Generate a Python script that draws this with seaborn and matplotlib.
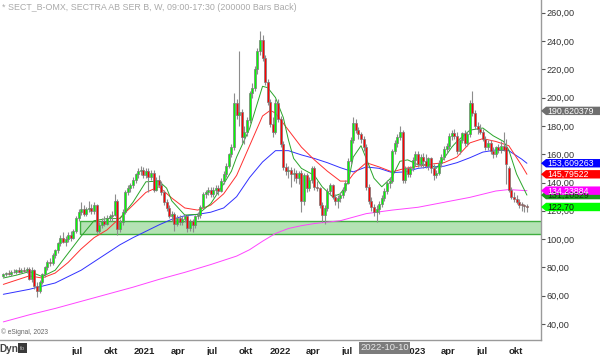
import numpy as np
import pandas as pd
import matplotlib
matplotlib.use("Agg")
import matplotlib.pyplot as plt
import matplotlib.dates as mdates
import matplotlib.transforms as mtransforms
from matplotlib.patches import Rectangle, Polygon
from matplotlib.ticker import FixedLocator, FuncFormatter
import seaborn as sns

# ---------------- data ----------------
first_week = "2019-12-16"

opens = [74, 75, 76, 75, 77, 76.5, 78, 77, 78.5, 77.5,
         79, 72, 78, 67, 63, 70, 75, 80, 84, 83,
         89, 92, 97, 101, 98, 100, 103, 101, 106, 115,
         119, 121, 118, 121, 122, 120, 124, 106, 110, 113,
         111, 115, 116, 117, 127, 107, 112, 119, 133, 136,
         138, 142, 146, 148, 149, 145, 148, 144, 147, 135,
         142, 138, 133, 126, 122, 116, 118, 111, 115, 112,
         114, 116, 108, 113, 110, 116, 117, 123, 132, 133,
         135, 132, 135, 136, 134, 141, 146, 152, 160, 165,
         196, 188, 190, 172, 176, 184, 203, 207, 220, 233,
         241, 228, 211, 197, 181, 176, 196, 185, 167, 151,
         148, 149, 146, 147, 143, 147, 127, 145, 136, 142,
         150, 137, 136, 124, 117, 122, 134, 138, 130, 127,
         129, 131, 135, 140, 155, 170, 182, 177, 174, 171,
         165, 137, 127, 123, 119, 121, 125, 129, 134, 140,
         141, 162, 168, 172, 176, 142, 150, 146, 150, 156,
         160, 153, 158, 155, 152, 157, 150, 145, 147, 154,
         158, 164, 166, 173, 175, 173, 162, 170, 175, 168,
         174, 196, 189, 180, 178, 176, 171, 165, 168, 162,
         160, 165, 163, 166, 165, 150, 135, 130, 128, 126,
         125, 124, 123.5]

highs = [76, 77, 78, 78, 79, 79, 80, 79.5, 80, 80,
         80.5, 80, 79, 70, 71, 76, 81, 85, 87, 90,
         93, 98, 103, 105, 102, 105, 106, 107, 116, 121,
         126, 124, 123, 127, 125, 126, 125, 112, 115, 116,
         117, 118, 120, 132, 128, 114, 121, 135, 138, 140,
         144, 147, 150, 152, 151, 150, 150, 149, 149, 144,
         145, 141, 135, 128, 124, 120, 119, 117, 117, 116,
         118, 117, 114, 114, 117, 119, 124, 133, 135, 137,
         137, 137, 138, 138, 143, 148, 154, 161, 167, 203,
         199, 233, 192, 180, 186, 205, 210, 222, 235, 247,
         244, 230, 213, 199, 186, 199, 199, 187, 169, 154,
         152, 151, 150, 149, 148, 149, 147, 147, 144, 152,
         152, 141, 137, 126, 124, 136, 140, 139, 132, 131,
         133, 137, 142, 157, 172, 186, 185, 179, 176, 173,
         167, 139, 130, 125, 124, 127, 131, 136, 142, 144,
         164, 170, 174, 180, 177, 152, 152, 152, 158, 162,
         162, 160, 161, 160, 158, 158, 153, 149, 156, 160,
         166, 168, 175, 177, 178, 176, 171, 176, 177, 176,
         198, 205, 191, 183, 181, 178, 173, 170, 170, 165,
         166, 167, 169, 176, 171, 152, 137, 133, 131, 128,
         126, 125, 125]

lows = [73, 74, 74.5, 74, 76, 75, 76, 76, 76.5, 76,
        71, 70, 65, 59, 62, 68, 73, 78, 81, 82,
        87, 90, 95, 97, 95, 98, 99, 100, 104, 113,
        117, 116, 116, 119, 118, 118, 104, 104, 108, 109,
        110, 113, 113, 116, 103, 105, 110, 118, 131, 133,
        136, 140, 143, 145, 143, 143, 133, 142, 133, 134,
        137, 131, 124, 120, 115, 113, 106, 109, 110, 110,
        112, 105, 106, 105, 108, 114, 115, 122, 129, 131,
        130, 130, 132, 131, 133, 139, 144, 150, 158, 163,
        185, 180, 168, 167, 173, 182, 200, 205, 217, 230,
        226, 209, 195, 179, 172, 174, 183, 165, 149, 145,
        143, 137, 141, 140, 139, 119, 124, 133, 134, 140,
        135, 134, 122, 112, 111, 120, 131, 128, 124, 122,
        126, 129, 133, 139, 153, 168, 175, 171, 168, 162,
        135, 125, 120, 116, 112, 118, 123, 127, 132, 136,
        140, 160, 165, 170, 140, 140, 144, 144, 148, 152,
        151, 151, 150, 150, 149, 147, 142, 143, 145, 151,
        156, 161, 164, 170, 171, 160, 160, 168, 166, 166,
        172, 187, 178, 174, 174, 169, 163, 163, 160, 157,
        158, 161, 161, 162, 139, 133, 128, 126, 125, 122,
        120, 119, 119]

closes = [75, 76, 75, 77, 76.5, 78, 77, 78.5, 77.5, 79,
          72, 78, 67, 63, 70, 75, 80, 84, 83, 89,
          92, 97, 101, 98, 100, 103, 101, 106, 115, 119,
          121, 118, 121, 122, 120, 124, 106, 110, 113, 111,
          115, 116, 117, 127, 107, 112, 119, 133, 136, 138,
          142, 146, 148, 149, 145, 148, 144, 147, 135, 142,
          138, 133, 126, 122, 116, 118, 111, 115, 112, 114,
          116, 108, 113, 110, 116, 117, 123, 132, 133, 135,
          132, 135, 136, 134, 141, 146, 152, 160, 165, 196,
          188, 190, 172, 176, 184, 203, 207, 220, 233, 241,
          228, 211, 197, 181, 176, 196, 185, 167, 151, 148,
          149, 146, 147, 143, 147, 127, 145, 136, 142, 150,
          137, 136, 124, 117, 122, 134, 138, 130, 127, 129,
          131, 135, 140, 155, 170, 182, 177, 174, 171, 165,
          137, 127, 123, 119, 121, 125, 129, 134, 140, 141,
          162, 168, 172, 176, 142, 150, 146, 150, 156, 160,
          153, 158, 155, 152, 157, 150, 145, 147, 154, 158,
          164, 166, 173, 175, 173, 162, 170, 175, 168, 174,
          196, 189, 180, 178, 176, 171, 165, 168, 162, 160,
          165, 163, 166, 163, 153, 135, 130, 128, 126, 124,
          124, 123.5, 122.7]

# moving-average lines, read at selected week indices
green_idx = [0, 5, 10, 13, 15, 20, 25, 30, 35, 40, 45, 50, 55, 60, 63, 65, 70, 75, 80, 85,
             88, 90, 95, 100, 102, 105, 108, 110, 112, 115, 120, 123, 127, 130, 133, 135, 138,
             140, 143, 146, 150, 153, 156, 160, 165, 167, 170, 173, 175, 180, 185, 189, 193,
             195, 198, 202]
green_val = [72.5, 74.5, 77, 75, 73.5, 78, 90, 102, 113, 114.5, 114.5, 126, 140.5, 141, 136,
             127, 117, 117.5, 125, 139, 148, 158, 178, 208, 207, 200, 186, 170, 157, 150, 145,
             137, 130, 132, 140, 158, 166, 157, 143, 137, 144, 155, 156, 152.5, 152.5, 150, 157,
             165, 169, 177, 178.5, 173, 169, 163, 146, 131.1]

red_idx = [0, 5, 10, 15, 20, 25, 30, 35, 40, 45, 50, 55, 60, 65, 70, 75, 80, 85, 90, 95, 100,
           103, 105, 110, 115, 120, 125, 130, 133, 135, 140, 145, 150, 155, 160, 165, 170, 175,
           180, 185, 190, 195, 200, 202]
red_val = [68, 71, 74, 72.5, 76, 83.5, 93, 101, 106.5, 115, 124, 133, 137, 129, 122, 120.5, 124,
           132, 145, 166, 187, 191, 189, 177, 165, 156, 148, 141, 141, 146, 154, 151, 147.5,
           150, 151.5, 153, 154, 158, 168, 171, 169, 166, 152, 145.8]

blue_idx = [0, 10, 20, 30, 35, 40, 45, 50, 55, 60, 65, 70, 75, 80, 85, 90, 95, 100, 105, 110,
            115, 120, 125, 130, 135, 140, 145, 150, 155, 160, 165, 170, 175, 180, 185, 190, 195,
            200, 202]
blue_val = [61, 64.5, 69, 78, 84, 90, 96, 101, 105.5, 110, 114, 116.5, 117.5, 119, 122, 130,
            143.5, 154.5, 162.5, 162.5, 159.5, 157, 154, 150.5, 147.5, 151, 150, 147, 147.5,
            150, 151, 151.5, 154, 157.5, 161.5, 163, 162.5, 156.5, 153.6]

mag_idx = [0, 10, 20, 30, 40, 50, 60, 70, 80, 90, 95, 100, 105, 110, 115, 120, 130, 135, 140,
           150, 160, 170, 180, 190, 195, 202]
mag_val = [41.5, 46.5, 51, 56, 61, 66, 71.5, 76.5, 82, 88, 92.5, 98.5, 104, 107.5, 109.5,
           111, 113, 115.5, 118, 120.5, 122.5, 126, 129.5, 134, 135, 134.2]

band_low, band_high = 103.4, 113.0
band_start = "2020-07-10"

tick_dates = ["2020-04-01", "2020-07-01", "2020-10-01", "2021-01-01", "2021-04-01",
              "2021-07-01", "2021-10-01", "2022-01-01", "2022-04-01", "2022-07-01",
              "2022-10-01", "2023-01-01", "2023-04-01", "2023-07-01", "2023-10-01"]
tick_labels = ["", "jul", "okt", "2021", "apr", "jul", "okt", "2022", "apr", "jul",
               "okt", "2023", "apr", "jul", "okt"]
y_ticks = [40, 60, 80, 100, 120, 140, 160, 180, 200, 220, 240, 260]

label_values = [190.620379, 153.609263, 145.79522, 131.10529, 134.23884, 122.70]
label_texts = ["190,620379", "153,609263", "145,79522", "131,10529", "134,23884", "122,70"]
label_faces = ["#6e6e6e", "#0000ff", "#ff0000", "#1c9a1c", "#ff00ff", "#00ff00"]
label_fg = ["white", "white", "white", "#0a3a0a", "white", "#111111"]

cursor_date = "2022-10-10"
title = "* SECT_B-OMX, SECTRA AB SER B, W, 09:00-17:30 (200000 Bars Back)"

# ---------------- figure ----------------
sns.set_style("white")
plt.rcParams["font.family"] = ["Liberation Sans", "DejaVu Sans"]

W, H = 600, 355
fig = plt.figure(figsize=(6.0, 3.55), dpi=100)
ax = fig.add_axes([0, 15 / H, 541 / W, 340 / H])

dates = pd.date_range(first_week, periods=len(closes), freq="7D")
xd = mdates.date2num(dates.to_pydatetime())

o = np.array(opens, float); h = np.array(highs, float)
l = np.array(lows, float); c = np.array(closes, float)

# support band
bx0 = mdates.date2num(pd.Timestamp(band_start).to_pydatetime())
ax.add_patch(Rectangle((bx0, band_low), 5000, band_high - band_low,
                       facecolor="#b4e2b4", edgecolor="#3fae3f", lw=1.0, zorder=1))

# moving averages via seaborn
for idx, val, col in [(mag_idx, mag_val, "#ff44ff"), (blue_idx, blue_val, "#3030ff"),
                      (red_idx, red_val, "#ff3030"), (green_idx, green_val, "#2aa52a")]:
    sns.lineplot(x=xd[idx], y=val, ax=ax, color=col, linewidth=0.7, zorder=2,
                 sort=False, estimator=None)

# candles
up = c >= o
ax.vlines(xd, l, h, color="#8c8c8c", lw=0.8, zorder=3)
body_lo = np.minimum(o, c)
body_h = np.maximum(np.abs(c - o), 0.4)
ax.bar(xd, body_h, bottom=body_lo, width=5.4,
       color=np.where(up, "#00ff00", "#ff0000"), edgecolor="#7a7a7a",
       linewidth=0.5, zorder=4)

ax.set_xlim(mdates.date2num(pd.Timestamp("2019-12-07").to_pydatetime()),
            mdates.date2num(pd.Timestamp("2023-12-07").to_pydatetime()))
ax.set_ylim(28.7, 268.97)

# axes styling
for s in ["left", "top"]:
    ax.spines[s].set_visible(False)
for s in ["right", "bottom"]:
    ax.spines[s].set_visible(True)
    ax.spines[s].set_color("#9a9a9a")
    ax.spines[s].set_linewidth(1.0)

ax.yaxis.tick_right()
ax.yaxis.set_major_locator(FixedLocator(y_ticks))
ax.yaxis.set_major_formatter(FuncFormatter(lambda v, p: f"{v:.2f}".replace(".", ",")))
ax.tick_params(axis="y", direction="out", length=3, width=0.8, color="#555555",
               labelsize=6.6, labelcolor="#333333", pad=1)

tnum = [mdates.date2num(pd.Timestamp(d).to_pydatetime()) for d in tick_dates]
ax.xaxis.set_major_locator(FixedLocator(tnum))
ax.set_xticklabels(tick_labels)
ax.tick_params(axis="x", direction="out", length=2.5, width=0.8, color="#555555",
               labelsize=6.8, labelcolor="#222222", pad=2.5)
for t in ax.get_xticklabels():
    t.set_fontweight("bold")
ax.set_xlabel(""); ax.set_ylabel("")
ax.grid(False)

# right-side value labels
trans = mtransforms.blended_transform_factory(fig.transFigure, ax.transData)
hh = 4.2 / 1.415
for v, txt, fc, tc in zip(label_values, label_texts, label_faces, label_fg):
    pts = [(541 / W, v), (546 / W, v + hh), (1.0, v + hh), (1.0, v - hh), (546 / W, v - hh)]
    ax.add_patch(Polygon(pts, closed=True, transform=trans, facecolor=fc,
                         edgecolor="none", clip_on=False, zorder=10))
    ax.text(547 / W, v - 0.2, txt, transform=trans, ha="left", va="center",
            fontsize=6.3, color=tc, clip_on=False, zorder=11)

# cursor date box
cx = mdates.date2num(pd.Timestamp(cursor_date).to_pydatetime())
btrans = mtransforms.blended_transform_factory(ax.transData, fig.transFigure)
ax.text(cx, 1 - 348 / H, cursor_date, transform=btrans, ha="center", va="center",
        fontsize=6.8, color="#e8e8e8", clip_on=False, zorder=12,
        bbox=dict(boxstyle="square,pad=0.12", facecolor="#7c7c7c", edgecolor="none"))

# texts
fig.text(2 / W, 1 - 7.5 / H, title, fontsize=6.4, color="#a9a9a9", va="center", ha="left")
fig.text(1 / W, 1 - 332.5 / H, "© eSignal, 2023", fontsize=4.8, color="#666666",
         va="center", ha="left")
fig.text(-1 / W, 1 - 348.5 / H, "Dyn", fontsize=7.2, color="#444444", va="center",
         ha="left", fontweight="bold")
fig.add_artist(Rectangle((18 / W, 1 - 353 / H), 9 / W, 10 / H, transform=fig.transFigure,
                         facecolor="#3a3a3a", edgecolor="none"))
fig.text(22.5 / W, 1 - 348 / H, "fo", fontsize=4.5, color="#bbbbbb", va="center",
         ha="center")

fig.savefig("out.png", dpi=100)
